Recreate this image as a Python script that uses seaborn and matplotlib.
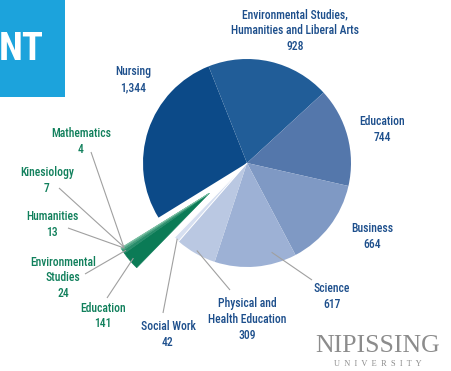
import numpy as np
import matplotlib
matplotlib.use("Agg")
import matplotlib.pyplot as plt
from matplotlib.patches import Rectangle
from matplotlib import font_manager as fm
import seaborn as sns

# ---------------- data ----------------
programs = ["Nursing",
            "Environmental Studies,\nHumanities and Liberal Arts",
            "Education", "Business", "Science",
            "Physical and\nHealth Education", "Social Work",
            "Education", "Environmental\nStudies", "Humanities",
            "Kinesiology", "Mathematics"]
enrolment = [1344, 928, 744, 664, 617, 309, 42, 141, 24, 13, 7, 4]
groups = ["blue"] * 7 + ["green"] * 5

# ---------------- style ----------------
sns.set_style("white")

# pick a condensed sans if one is installed
cond_family = None
cond_stretch = "normal"
for cand in ["Liberation Sans Narrow", "DejaVu Sans Condensed", "Roboto Condensed",
             "Open Sans Condensed", "Noto Sans Condensed"]:
    try:
        fm.findfont(fm.FontProperties(family=cand), fallback_to_default=False)
        cond_family = cand
        break
    except Exception:
        pass
if cond_family is None:
    for f in fm.fontManager.ttflist:
        if f.stretch in ("condensed", "semi-condensed", "extra-condensed") and "Sans" in f.name:
            cond_family = f.name
            cond_stretch = f.stretch
            break
LABEL_FONT = [cond_family, "DejaVu Sans"] if cond_family else ["DejaVu Sans"]
plt.rcParams["font.family"] = LABEL_FONT

blue_cols = ["#0c4a88", "#215d98", "#5477ab", "#7f99c4", "#9db1d5", "#bac8e2", "#d6dff0"]
green_cols = list(sns.blend_palette(["#0b7b56", "#7cc0a4"], 5).as_hex())
colors = blue_cols + green_cols

W, H = 452, 371
CX, CY, R = 247, 163, 104


def P(px, py):
    return ((px - CX) / R, (CY - py) / R)


fig = plt.figure(figsize=(W / 100, H / 100), dpi=100)
ax = fig.add_axes([0, 0, 1, 1])

wedges, _ = ax.pie(enrolment, colors=colors, startangle=211.7,
                   counterclock=False, radius=1, center=(0, 0),
                   wedgeprops=dict(linewidth=0))
ax.set_xlim(-CX / R, (W - CX) / R)
ax.set_ylim((CY - H) / R, CY / R)
ax.set_aspect("equal")
ax.axis("off")

wedges[6].set_edgecolor("white")
wedges[6].set_linewidth(0.7)

# explode green group as one unit
gw = [w for w, g in zip(wedges, groups) if g == "green"]
t_lo = min(w.theta1 for w in gw)
t_hi = max(w.theta2 for w in gw)
tm = np.deg2rad((t_lo + t_hi) / 2)
off = 0.465
gc = (off * np.cos(tm), off * np.sin(tm))
for w in gw:
    w.set_center(gc)
    w.set_edgecolor(w.get_facecolor())
    w.set_linewidth(0.4)


def anchor(w, frac=0.5, r=0.95):
    a = np.deg2rad(w.theta1 + frac * (w.theta2 - w.theta1))
    cx, cy = w.center
    return (cx + r * np.cos(a), cy + r * np.sin(a))


BLUE_TXT = "#1d4f8c"
GREEN_TXT = "#11805c"
LINE = "#a0a0a0"

layout = [
    (133, 72, BLUE_TXT, None, 0.5, 0.9),
    (295, 15, BLUE_TXT, None, 0.5, 0.9),
    (382, 122, BLUE_TXT, None, 0.5, 0.9),
    (372, 229, BLUE_TXT, None, 0.5, 0.9),
    (332, 289, BLUE_TXT, (312, 280), 0.73, 0.89),
    (247, 304, BLUE_TXT, (230, 290), 0.49, 0.97),
    (168, 327, BLUE_TXT, (163, 313), 0.5, 0.99),
    (103, 308, GREEN_TXT, (107, 298), 0.5, 0.96),
    (63, 262, GREEN_TXT, (85, 274), 0.5, 0.97),
    (52, 217, GREEN_TXT, (68, 228), 0.5, 0.97),
    (47, 173, GREEN_TXT, (59, 188), 0.5, 0.97),
    (81, 134, GREEN_TXT, (91, 152), 0.5, 0.97),
]

LINE_PX = 15.8
for name, val, w, (tx, ty, col, lstart, fr, rr) in zip(programs, enrolment, wedges, layout):
    lines = name.split("\n") + [f"{val:,}"]
    for i, s in enumerate(lines):
        ax.text(*P(tx, ty + i * LINE_PX), s, ha="center", va="center",
                fontsize=8.4, color=col, family=LABEL_FONT, fontstretch=cond_stretch,
                weight="medium")
    if lstart is not None:
        x0, y0 = P(*lstart)
        x1, y1 = anchor(w, fr, rr)
        ax.plot([x0, x1], [y0, y1], color=LINE, lw=0.8, solid_capstyle="butt")

# title box
bx0, by0 = P(0, 97)
bx1, by1 = P(65, 0)
ax.add_patch(Rectangle((bx0, by0), bx1 - bx0, by1 - by0, color="#1ca3dc", lw=0, zorder=5))
ax.text(*P(-1, 50), "NT", ha="left", va="center", fontsize=28, weight="bold",
        color="white", family=LABEL_FONT, fontstretch=cond_stretch, zorder=6)

# logo
ax.text(*P(378, 346), "NIPISSING", ha="center", va="center", fontsize=18.5,
        color="#8c8c8c", family=["Liberation Serif", "DejaVu Serif"])
ax.text(*P(378, 364), "U  N  I  V  E  R  S  I  T  Y", ha="center", va="center",
        fontsize=6, color="#8c8c8c", family=["Liberation Serif", "DejaVu Serif"])

fig.savefig("out.png", dpi=100)
